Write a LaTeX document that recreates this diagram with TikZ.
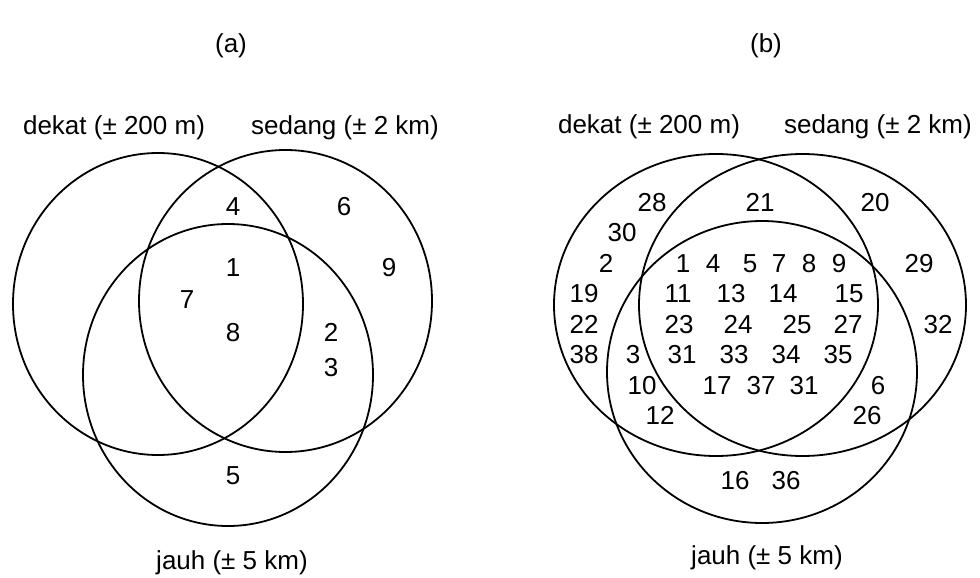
\documentclass[tikz,border=0pt]{standalone}
\usepackage{fontspec}
\setmainfont{Liberation Sans}
\usetikzlibrary{shapes.geometric}
\begin{document}
\begin{tikzpicture}[x=1pt,y=-1pt,
  set/.style={draw, ellipse, line width=1.8pt, inner sep=0pt, outer sep=0pt},
  num/.style={font=\fontsize{26}{30}\selectfont, inner sep=0pt, text height=18.6pt, text depth=0pt},
  lbl/.style={font=\fontsize{26}{30}\selectfont, inner sep=0pt}]
\useasboundingbox (0,0) rectangle (980,578);

% ---------------- panel (a) ----------------
\node[lbl] (ta) at (231,46) {(a)};
\node[set, minimum width=290pt, minimum height=302pt] (aD) at (158,304) {};
\node[set, minimum width=293pt, minimum height=302pt] (aS) at (285.5,301) {};
\node[set, minimum width=290pt, minimum height=302pt] (aJ) at (228,375) {};
\node[lbl] (aDl) at (114,128) {dekat (± 200 m)};
\node[lbl] (aSl) at (345,128) {sedang (± 2 km)};
\node[lbl] (aJl) at (232,563) {jauh (± 5 km)};

\node[num] (a4) at (233,206) {4};
\node[num] (a6) at (344,206) {6};
\node[num] (a1) at (233,267) {1};
\node[num] (a9) at (389,267) {9};
\node[num] (a7) at (187,299) {7};
\node[num] (a8) at (233,332) {8};
\node[num] (a2) at (331,332) {2};
\node[num] (a3) at (331,367) {3};
\node[num] (a5) at (233,475) {5};

% ---------------- panel (b) ----------------
\node[lbl] (tb) at (766,46) {(b)};
\node[set, minimum width=324pt, minimum height=302pt] (bD) at (716,305) {};
\node[set, minimum width=327pt, minimum height=302pt] (bS) at (802.5,305) {};
\node[set, minimum width=310pt, minimum height=302pt] (bJ) at (762,372) {};
\node[lbl] (bDl) at (649,127) {dekat (± 200 m)};
\node[lbl] (bSl) at (878,127) {sedang (± 2 km)};
\node[lbl] (bJl) at (767,558) {jauh (± 5 km)};

% row 1
\node[num] (b28) at (652,202) {28};
\node[num] (b21) at (760,202) {21};
\node[num] (b20) at (875,202) {20};
\node[num] (b30) at (622,232) {30};
% row 2
\node[num] (b2)  at (606,263) {2};
\node[num] (b1)  at (683,263) {1};
\node[num] (b4)  at (713,263) {4};
\node[num] (b5)  at (750,263) {5};
\node[num] (b7)  at (779,263) {7};
\node[num] (b8)  at (809,263) {8};
\node[num] (b9)  at (839,263) {9};
\node[num] (b29) at (919,263) {29};
% row 3
\node[num] (b19) at (584,293) {19};
\node[num] (b11) at (678,293) {11};
\node[num] (b13) at (731,293) {13};
\node[num] (b14) at (783,293) {14};
\node[num] (b15) at (849,293) {15};
% row 4
\node[num] (b22) at (584,324) {22};
\node[num] (b23) at (679,324) {23};
\node[num] (b24) at (738,324) {24};
\node[num] (b25) at (797,324) {25};
\node[num] (b27) at (848,324) {27};
\node[num] (b32) at (938,324) {32};
% row 5
\node[num] (b38) at (584,354) {38};
\node[num] (b3)  at (633,354) {3};
\node[num] (b31) at (682,354) {31};
\node[num] (b33) at (734,354) {33};
\node[num] (b34) at (786,354) {34};
\node[num] (b35) at (838,354) {35};
% row 6
\node[num] (b10) at (642,385) {10};
\node[num] (b17) at (717,385) {17};
\node[num] (b37) at (761,385) {37};
\node[num] (b31b) at (804,385) {31};
\node[num] (b6)  at (878,385) {6};
% row 7
\node[num] (b12) at (660,415) {12};
\node[num] (b26) at (867,415) {26};
% bottom
\node[num] (b16) at (735,480) {16};
\node[num] (b36) at (786,480) {36};
\end{tikzpicture}
\end{document}
